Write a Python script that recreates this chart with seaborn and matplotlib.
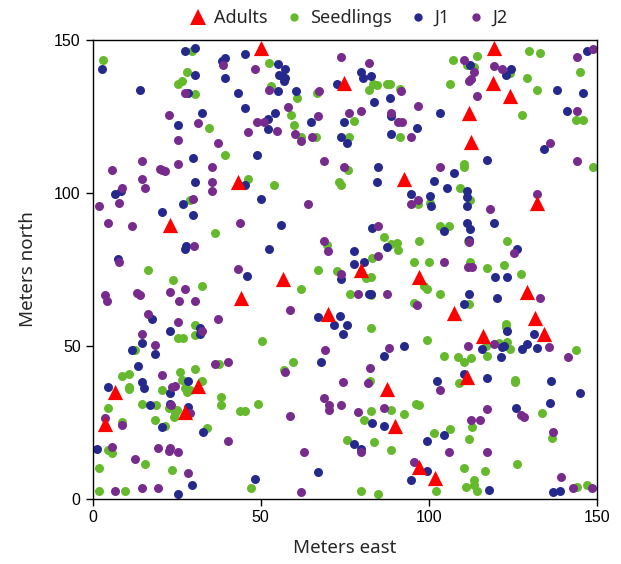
import matplotlib
matplotlib.use("Agg")
import matplotlib.pyplot as plt
from matplotlib.lines import Line2D
import seaborn as sns
import pandas as pd

# ---------------- data (meters east, meters north) ----------------
stages = ["Adults", "Seedlings", "J1", "J2"]
colors = {"Adults": "#FF0000", "Seedlings": "#65B92D", "J1": "#26298C", "J2": "#772B8D"}

adults = [(50.1, 147.4), (74.9, 135.9), (92.7, 104.6), (43.2, 103.4), (119.4, 147.4),
          (119.2, 135.9), (124.2, 131.7), (111.9, 126.1), (112.4, 116.6), (23.1, 89.3),
          (44.2, 65.5), (79.8, 74.8), (56.7, 71.7), (97.0, 72.6), (69.9, 60.4),
          (132.1, 96.6), (129.2, 67.4), (107.5, 60.8), (131.6, 59.1), (134.3, 53.8),
          (116.1, 53.0), (111.4, 39.7), (101.9, 6.6), (6.7, 35.0), (31.5, 36.9),
          (27.5, 28.2), (3.7, 24.4), (87.6, 35.8), (90.0, 23.7), (97.0, 10.4)]

seedlings = [(3.2, 143.3), (29.5, 146.3), (28.0, 139.5), (25.5, 135.6), (26.7, 136.4), (30.5, 132.2),
             (34.6, 121.1), (39.3, 112.3), (46.2, 104.5),
             (52.5, 142.4), (83.3, 135.6), (84.6, 135.1), (82.3, 133.7), (87.7, 135.7), (88.4, 135.7),
             (91.5, 134.0), (53.0, 134.8), (60.9, 130.8), (66.8, 132.7), (59.1, 125.4), (60.0, 122.0),
             (77.8, 123.4), (62.1, 118.3), (66.5, 118.1), (76.3, 118.2), (91.5, 118.2), (75.9, 107.3),
             (73.2, 103.6), (74.0, 102.4), (54.1, 102.6),
             (129.9, 146.3), (133.1, 145.7), (107.3, 143.3), (114.3, 144.7), (111.3, 141.6), (113.3, 141.1),
             (124.2, 139.2), (144.8, 139.5), (106.4, 135.6), (129.1, 137.5), (132.1, 133.7), (127.6, 125.4),
             (143.8, 123.9), (145.8, 123.9), (148.9, 108.4), (110.4, 109.5), (110.4, 108.3), (109.4, 101.5),
             (29.0, 97.7), (36.4, 86.9), (16.6, 74.8), (23.9, 71.4), (32.4, 69.4), (30.5, 56.8),
             (30.5, 53.4), (25.5, 52.5), (26.9, 52.5),
             (96.9, 96.2), (86.6, 85.5), (69.7, 82.8), (88.8, 83.2), (90.6, 83.7), (90.7, 81.3),
             (97.1, 84.1), (83.1, 78.6), (95.6, 77.3), (66.9, 74.8), (72.6, 74.4), (81.2, 72.1),
             (82.9, 72.4), (62.0, 68.6), (76.7, 67.0), (82.9, 66.4), (98.5, 69.5), (99.5, 68.5),
             (95.6, 63.8), (82.9, 55.9), (50.4, 51.4), (99.4, 51.9),
             (100.2, 96.6), (112.3, 97.7), (103.4, 89.0), (106.1, 89.0), (123.3, 84.1), (111.7, 84.1),
             (99.9, 77.3), (112.3, 77.3), (117.3, 75.4), (122.3, 76.3), (127.3, 73.4), (103.2, 66.8),
             (112.0, 63.7), (123.0, 57.0), (123.0, 56.0),
             (104.6, 46.6), (108.6, 46.3), (110.4, 44.8), (112.4, 46.1), (117.1, 50.0), (117.3, 46.6),
             (120.8, 50.8), (123.3, 51.1), (124.1, 48.9), (143.8, 48.5),
             (12.6, 48.7), (8.7, 40.2), (10.7, 40.7), (26.0, 41.3), (30.5, 42.3), (37.5, 44.1),
             (10.7, 36.6), (10.7, 35.8), (20.6, 35.5), (26.5, 38.8), (27.5, 36.1), (28.0, 35.0),
             (29.0, 35.5), (32.5, 38.6), (14.6, 30.8), (18.8, 30.6), (22.6, 29.7), (24.6, 27.9),
             (25.0, 29.0), (24.1, 26.8), (38.1, 33.2), (38.3, 30.5), (43.7, 28.6), (45.4, 28.6),
             (49.1, 31.0), (4.7, 29.7), (8.7, 24.9), (18.6, 25.7), (21.6, 23.8), (33.9, 23.2),
             (4.7, 15.9), (5.9, 15.0), (15.6, 11.2), (1.8, 10.1), (23.5, 9.2), (47.2, 3.3),
             (1.8, 2.5), (9.7, 2.5),
             (59.6, 44.6), (56.8, 42.1), (82.4, 38.6), (82.7, 28.6), (80.7, 25.8), (88.6, 28.9),
             (92.6, 27.7), (96.1, 31.0), (97.1, 30.5), (75.7, 19.3), (83.8, 18.4), (88.6, 16.0),
             (79.7, 2.5), (84.8, 1.4),
             (108.9, 37.7), (125.5, 38.9), (125.7, 38.2), (133.5, 27.9), (112.7, 23.5), (101.4, 21.3),
             (106.4, 22.8), (111.9, 19.5), (136.5, 19.8), (126.1, 11.2), (110.4, 10.1), (116.8, 8.9),
             (102.1, 2.5), (113.3, 6.1), (113.3, 4.6), (110.9, 3.9), (114.3, 2.5), (143.9, 3.9),
             (146.9, 4.6)]

j1 = [(2.7, 140.5), (27.5, 146.3), (30.5, 147.2), (45.2, 145.4), (38.4, 143.0), (39.4, 144.1),
      (30.5, 138.5), (39.4, 137.5), (14.1, 133.7), (28.5, 132.6), (43.2, 132.6), (45.3, 127.8),
      (32.4, 125.9), (25.5, 122.0), (49.0, 112.2), (29.9, 111.3), (30.5, 103.6), (45.4, 102.6),
      (8.5, 100.4),
      (55.1, 142.1), (57.1, 140.5), (55.5, 138.6), (56.3, 138.1), (57.1, 137.5), (56.8, 136.4),
      (79.9, 139.5), (80.3, 137.5), (82.7, 138.1), (72.8, 135.7), (55.1, 133.2), (60.6, 133.2),
      (88.4, 130.8), (83.8, 129.8), (88.6, 125.2), (54.2, 125.9), (52.3, 124.1), (52.1, 120.8),
      (65.0, 123.0), (74.8, 123.0), (96.6, 121.0), (73.9, 118.1), (75.8, 116.1), (88.6, 119.1),
      (84.8, 108.4), (84.7, 103.6),
      (146.9, 146.3), (112.3, 141.9), (122.8, 138.6), (124.3, 140.5), (138.1, 133.7), (145.9, 132.6),
      (103.4, 126.1), (141.0, 126.8), (134.1, 114.2), (117.3, 110.8), (107.5, 106.4), (101.6, 103.7),
      (105.4, 101.5), (111.4, 100.6),
      (6.7, 99.7), (26.9, 96.3), (20.6, 93.7), (29.9, 92.8), (27.5, 81.7), (27.9, 82.7),
      (7.7, 78.2), (45.8, 72.7), (17.7, 58.8), (23.1, 54.9), (31.9, 55.9), (31.9, 53.8),
      (14.6, 51.0),
      (50.0, 97.8), (94.6, 99.6), (56.1, 89.4), (83.1, 88.4), (87.7, 82.1), (52.6, 81.7),
      (77.8, 81.1), (77.7, 76.8), (80.8, 77.3), (73.9, 71.7), (82.3, 67.0), (82.9, 67.0),
      (66.9, 59.3), (73.5, 59.7), (71.8, 56.8), (75.8, 56.8), (74.4, 53.8), (92.7, 50.0),
      (100.4, 98.8), (100.5, 95.8), (111.4, 98.5), (111.4, 95.8), (111.4, 90.1), (112.3, 88.1),
      (104.6, 87.6), (119.3, 90.0), (111.9, 84.6), (126.1, 81.7), (119.8, 72.4), (123.3, 72.4),
      (111.9, 67.0), (110.5, 63.6), (120.3, 65.6), (123.3, 54.9), (131.3, 53.8),
      (115.8, 48.8), (121.8, 49.4), (122.4, 50.0), (121.3, 46.2), (127.7, 48.9), (129.2, 50.6),
      (132.2, 49.2),
      (11.7, 48.7), (18.6, 47.3), (13.6, 43.2), (4.7, 36.4), (14.6, 38.1), (15.2, 36.3),
      (23.1, 34.4), (28.5, 38.6), (17.2, 30.6), (23.1, 30.9), (28.3, 30.1), (20.6, 23.3),
      (32.9, 21.9), (1.2, 16.1), (29.5, 4.4), (48.3, 6.3), (25.5, 1.5),
      (86.7, 46.6), (68.0, 44.8), (83.2, 24.7), (86.7, 23.8), (77.8, 17.9), (79.8, 16.1),
      (99.4, 18.9), (99.4, 9.0), (67.0, 8.7), (94.6, 6.1),
      (102.4, 38.4), (110.4, 40.6), (117.3, 39.3), (136.3, 38.4), (144.8, 34.4), (125.8, 29.6),
      (136.0, 31.3), (104.4, 20.9), (117.8, 2.8), (136.9, 2.0), (138.9, 2.5)]

j2 = [(38.7, 141.9), (48.2, 140.5), (27.5, 132.6), (22.6, 125.4), (31.5, 122.9), (49.0, 123.0),
      (46.2, 120.0), (25.5, 117.1), (37.3, 116.1), (14.6, 110.4), (5.7, 107.4), (20.1, 107.9),
      (20.8, 107.4), (21.6, 107.2), (25.5, 109.4), (35.4, 108.4), (14.6, 104.4), (15.6, 101.5),
      (35.4, 103.6), (35.5, 100.6), (8.9, 101.5),
      (73.9, 144.3), (82.3, 142.4), (91.6, 133.2), (52.6, 133.5), (67.4, 133.2), (96.9, 128.4),
      (58.1, 127.9), (79.8, 126.8), (76.4, 125.9), (88.6, 125.9), (67.0, 125.0), (51.1, 123.0),
      (54.9, 120.1), (90.7, 123.0), (92.1, 123.0), (60.1, 119.2), (62.1, 117.0), (65.4, 118.2),
      (94.6, 118.2), (68.9, 110.4), (74.9, 108.4),
      (148.8, 147.1), (143.9, 144.3), (110.4, 143.5), (113.3, 139.5), (119.3, 141.3), (121.8, 140.5),
      (111.9, 136.5), (112.5, 137.2), (114.3, 131.7), (143.9, 126.8), (136.1, 116.1), (143.9, 110.4),
      (103.4, 108.4),
      (1.8, 95.7), (7.8, 96.7), (29.9, 97.8), (4.7, 90.0), (11.7, 89.0), (43.7, 90.0),
      (30.2, 82.6), (7.9, 77.2), (43.2, 75.2), (27.5, 68.6), (23.1, 67.6), (3.7, 66.6),
      (4.3, 64.6), (13.1, 67.2), (14.1, 66.5), (25.7, 64.6), (30.5, 64.6), (16.6, 60.2),
      (37.3, 58.8), (25.5, 57.8), (32.4, 54.8), (14.6, 53.8), (18.6, 50.2),
      (64.0, 96.2), (96.9, 97.7), (94.6, 96.2), (85.0, 89.0), (68.9, 84.1), (69.9, 81.1),
      (84.8, 79.3), (73.9, 73.4), (78.9, 67.0), (87.7, 67.0), (96.6, 63.2), (58.6, 61.7),
      (132.1, 99.7), (118.3, 94.8), (112.0, 83.9), (125.2, 80.3), (104.6, 77.3), (111.7, 75.8),
      (112.7, 75.8), (133.1, 65.6),
      (111.6, 50.0), (119.3, 50.5), (135.6, 49.4), (141.5, 46.3),
      (20.6, 40.3), (36.5, 44.1), (40.3, 44.7), (23.6, 36.4), (24.6, 36.9), (23.4, 30.6),
      (29.0, 28.1), (3.7, 26.2), (8.7, 24.1), (5.7, 17.0), (19.6, 16.5), (23.1, 16.6),
      (22.6, 15.5), (25.5, 15.1), (12.6, 13.1), (40.3, 18.8), (28.5, 8.2), (6.7, 2.5),
      (14.6, 3.3), (19.6, 3.3),
      (69.0, 48.6), (88.1, 49.2), (57.1, 41.3), (82.4, 42.7), (81.8, 37.9), (74.6, 38.0),
      (68.9, 33.0), (70.4, 30.6), (70.4, 28.9), (73.9, 30.6), (78.8, 28.4), (86.6, 29.7),
      (58.6, 27.0), (79.8, 15.1), (63.0, 15.1), (95.6, 12.1), (62.1, 2.0),
      (103.4, 35.5), (117.3, 29.2), (127.5, 27.3), (128.2, 26.7), (112.4, 25.8), (115.3, 25.8),
      (137.0, 21.9), (105.9, 15.1), (117.3, 15.1), (139.4, 6.9), (143.0, 3.3), (148.4, 3.3)]

x_ticks = [0, 50, 100, 150]
y_ticks = [0, 50, 100, 150]

# ---------------- build table ----------------
rows = []
for name, pts in [("Seedlings", seedlings), ("J1", j1), ("J2", j2), ("Adults", adults)]:
    for x, y in pts:
        rows.append({"east": x, "north": y, "stage": name})
df = pd.DataFrame(rows)

sns.set_style("white")
plt.rcParams["font.family"] = ["Liberation Sans", "DejaVu Sans"]

fig = plt.figure(figsize=(6.21, 5.64), dpi=100)
ax = fig.add_axes([0.149, 0.116, 0.8124, 0.8135])

for name in ["Seedlings", "J1", "J2"]:
    sns.scatterplot(data=df[df.stage == name], x="east", y="north", color=colors[name],
                    s=42, linewidth=0, marker="o", ax=ax, legend=False, zorder=2)
sns.scatterplot(data=df[df.stage == "Adults"], x="east", y="north", color=colors["Adults"],
                s=120, linewidth=0, marker="^", ax=ax, legend=False, zorder=3)

ax.set_xlim(0, 150)
ax.set_ylim(0, 150)
ax.set_xticks(x_ticks)
ax.set_yticks(y_ticks)
ax.tick_params(direction="out", length=5, width=1, labelsize=11.5, colors="black",
               bottom=True, left=True)
for sp in ax.spines.values():
    sp.set_visible(True)
    sp.set_color("black")
    sp.set_linewidth(1.0)

lab_font = {"family": ["Noto Sans", "DejaVu Sans"], "size": 13.5}
ax.set_xlabel("Meters east", fontdict=lab_font, labelpad=10)
ax.set_ylabel("Meters north", fontdict=lab_font, labelpad=12)

handles = [
    Line2D([], [], linestyle="none", marker="^", markersize=11, color=colors["Adults"], markeredgewidth=0),
    Line2D([], [], linestyle="none", marker="o", markersize=6, color=colors["Seedlings"], markeredgewidth=0),
    Line2D([], [], linestyle="none", marker="o", markersize=6, color=colors["J1"], markeredgewidth=0),
    Line2D([], [], linestyle="none", marker="o", markersize=6, color=colors["J2"], markeredgewidth=0),
]
fig.legend(handles, stages, loc="center", bbox_to_anchor=(0.559, 0.968), ncol=4, frameon=False,
           handletextpad=0.3, columnspacing=0.85, handlelength=1.2,
           prop={"family": ["Noto Sans", "DejaVu Sans"], "size": 13})

fig.savefig("out.png", dpi=100, facecolor="white")
